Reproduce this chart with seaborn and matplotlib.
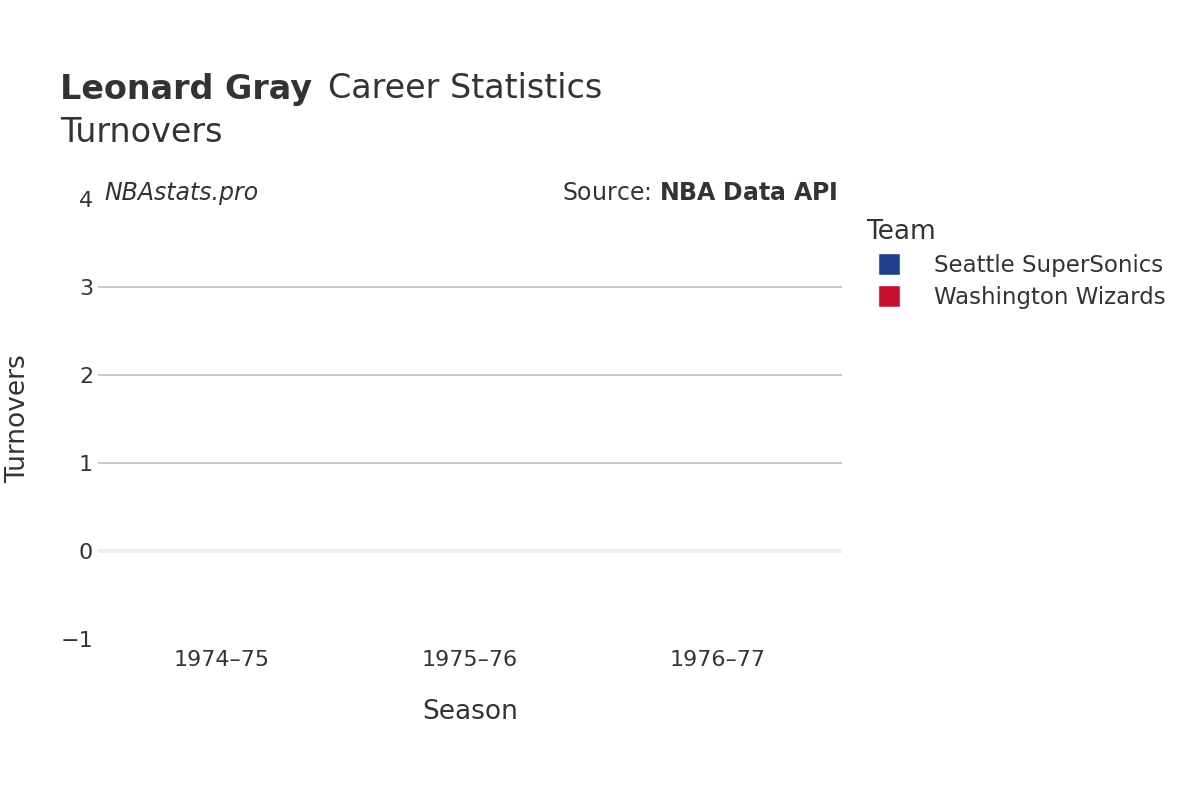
import matplotlib
matplotlib.use("Agg")
import matplotlib.pyplot as plt
import seaborn as sns
import pandas as pd
import numpy as np
from matplotlib.lines import Line2D

seasons = ["1974–75", "1975–76", "1976–77"]
teams = ["Seattle SuperSonics", "Washington Wizards"]
team_colors = ["#1D428A", "#C8102E"]
turnovers = [np.nan, np.nan, np.nan]
season_team = ["Seattle SuperSonics", "Seattle SuperSonics", "Washington Wizards"]

df = pd.DataFrame({"Season": seasons, "Turnovers": turnovers, "Team": season_team})

plt.rcParams["font.family"] = "DejaVu Sans"
fig = plt.figure(figsize=(12, 8), dpi=100)
ax = fig.add_axes([98/1200, 1-639/800, 744/1200, 440/800])
sns.barplot(data=df, x="Season", y="Turnovers", hue="Team", order=seasons,
            hue_order=teams, palette=team_colors, ax=ax, legend=False)
ax.set_xticks(range(3))
ax.set_xticklabels(seasons)
ax.set_xlim(-0.5, 2.5)
ax.set_ylim(-1, 4)
ax.set_yticks([-1, 0, 1, 2, 3, 4])
ax.set_yticklabels(["−1", "0", "1", "2", "3", "4"])
for s in ax.spines.values():
    s.set_visible(False)
for v in [1, 2, 3]:
    ax.axhline(v, color="#c0c0c0", lw=1.2, zorder=0)
ax.axhline(0, color="#eeeeee", lw=3, zorder=0)
ax.tick_params(length=0, labelsize=16, colors="#333333")
ax.tick_params(axis="x", pad=8)
ax.set_xlabel("Season", fontsize=19, color="#333333")
ax.set_ylabel("Turnovers", fontsize=19, color="#333333")
ax.xaxis.set_label_coords(0.5, -(712-639)/440, transform=ax.transAxes)
ax.xaxis.label.set_va("center")
ax.yaxis.set_label_coords((18-98)/744, 0.5, transform=ax.transAxes)
ax.yaxis.label.set_va("center")

fig.text(60/1200, 1-89/800, "Leonard Gray", fontsize=24, fontweight="bold", color="#333333", va="center")
fig.text(328/1200, 1-89/800, "Career Statistics", fontsize=24, color="#333333", va="center")
fig.text(60/1200, 1-133/800, "Turnovers", fontsize=24, color="#333333", va="center")
fig.text(104/1200, 1-193/800, "NBAstats.pro", fontsize=17, style="italic", color="#333333", va="center")
fig.text(838/1200, 1-193/800, r"Source: $\bf{NBA\ Data\ API}$", fontsize=17, color="#333333", va="center", ha="right")

handles = [Line2D([0], [0], marker="s", color="w", markerfacecolor=c, markersize=16, lw=0)
           for c in team_colors]
leg = fig.legend(handles, teams, title="Team", loc="upper left",
                 bbox_to_anchor=(845/1200, 1-198/800), frameon=False,
                 fontsize=16.5, title_fontsize=19, labelcolor="#333333",
                 handletextpad=1.0, labelspacing=0.4)
leg.get_title().set_color("#333333")
leg._legend_box.align = "left"

fig.savefig("out.png", dpi=100)
